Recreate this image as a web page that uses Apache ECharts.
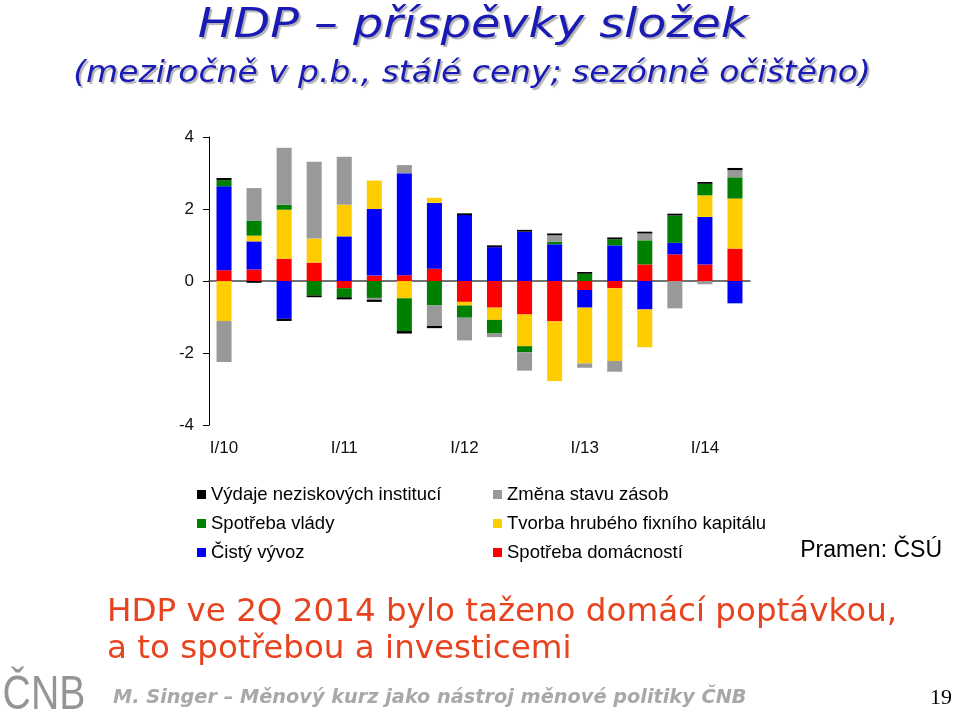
<!DOCTYPE html>
<html>
<head>
<meta charset="utf-8">
<script src="https://cdn.jsdelivr.net/npm/echarts@6/dist/echarts.min.js"></script>
<style>html,body{margin:0;padding:0;background:#fff}#c{width:960px;height:713px}</style>
</head>
<body>
<div id="c"></div>
<script>
const categories = ['I/10','II/10','III/10','IV/10','I/11','II/11','III/11','IV/11','I/12','II/12','III/12','IV/12','I/13','II/13','III/13','IV/13','I/14','II/14'];
const yTicks = [-4, -2, 0, 2, 4];
const household = [0.30, 0.32, 0.62, 0.51, -0.20, 0.15, 0.16, 0.34, -0.58, -0.74, -0.93, -1.12, -0.25, -0.20, 0.46, 0.74, 0.46, 0.90];
const netExport = [2.33, 0.78, -1.05, 0, 1.24, 1.85, 2.83, 1.83, 1.83, 0.94, 1.37, 1.02, -0.49, 0.99, -0.79, 0.32, 1.32, -0.62];
const gfcf = [-1.11, 0.16, 1.36, 0.67, 0.88, 0.79, -0.48, 0.14, -0.10, -0.34, -0.88, -1.66, -1.55, -2.02, -1.05, 0, 0.60, 1.39];
const government = [0.17, 0.42, 0.14, -0.40, -0.25, -0.47, -0.91, -0.68, -0.34, -0.38, -0.17, 0.07, 0.20, 0.17, 0.67, 0.76, 0.32, 0.59];
const inventories = [-1.14, 0.90, 1.58, 2.13, 1.33, -0.05, 0.23, -0.57, -0.63, -0.10, -0.51, 0.18, -0.12, -0.30, 0.19, -0.76, -0.09, 0.20];
const npish = [0.06, -0.05, -0.06, -0.05, -0.06, -0.06, -0.07, -0.06, 0.05, 0.05, 0.05, 0.05, 0.05, 0.05, 0.05, 0.05, 0.05, 0.06];

const names = {
  npish: 'Výdaje neziskových institucí',
  gov: 'Spotřeba vlády',
  nx: 'Čistý vývoz',
  inv: 'Změna stavu zásob',
  gfcf: 'Tvorba hrubého fixního kapitálu',
  hh: 'Spotřeba domácností'
};
const colors = { npish:'#000000', gov:'#008000', nx:'#0000FF', inv:'#999999', gfcf:'#FFCC00', hh:'#FF0000' };

function bar(key, data) {
  return { name: names[key], type: 'bar', stack: 'total', data: data,
    itemStyle: { color: colors[key] }, barCategoryGap: '50%', xAxisIndex: 0, yAxisIndex: 0 };
}

const chart = echarts.init(document.getElementById('c'));
const legendText = { fontFamily: 'Liberation Sans, Arial, sans-serif', fontSize: 18.5, color: '#000', lineHeight: 18 };
const titleFont = 'DejaVu Sans, Verdana, sans-serif';
chart.setOption({
  animation: false,
  backgroundColor: '#fff',
  grid: { left: 209, right: 210, top: 137, bottom: 288 },
  xAxis: [
    { type: 'category', data: categories, position: 'bottom',
      axisLine: { show: false, onZero: false }, axisTick: { show: false },
      axisLabel: { interval: function (i) { return i % 4 === 0; }, margin: 15,
        fontFamily: 'Liberation Sans, Arial, sans-serif', fontSize: 17, color: '#111' } },
    { type: 'category', data: categories,
      axisLine: { show: true, onZero: true, lineStyle: { color: '#444', width: 1.5 } },
      axisTick: { show: false }, axisLabel: { show: false } }
  ],
  yAxis: { type: 'value', min: -4, max: 4, interval: 2,
    axisLine: { show: true, lineStyle: { color: '#000', width: 1 } },
    axisTick: { show: true, inside: false, length: 6, lineStyle: { color: '#000' } },
    splitLine: { show: false },
    axisLabel: { margin: 15, fontFamily: 'Liberation Sans, Arial, sans-serif', fontSize: 17, color: '#111',
      formatter: function (v) { return yTicks.indexOf(v) >= 0 ? String(v) : ''; } } },
  legend: [
    { orient: 'vertical', left: 192, top: 480, itemWidth: 9, itemHeight: 9, itemGap: 10, icon: 'rect',
      textStyle: legendText, data: [names.npish, names.gov, names.nx] },
    { orient: 'vertical', left: 488, top: 480, itemWidth: 9, itemHeight: 9, itemGap: 10, icon: 'rect',
      textStyle: legendText, data: [names.inv, names.gfcf, names.hh] }
  ],
  series: [
    bar('hh', household),
    bar('nx', netExport),
    bar('gfcf', gfcf),
    bar('gov', government),
    bar('inv', inventories),
    bar('npish', npish)
  ],
  graphic: [
    { type: 'text', x: 473, y: 27, scaleX: 1.19, style: { text: 'HDP – příspěvky složek', textAlign: 'center', textVerticalAlign: 'middle',
      fontFamily: titleFont, fontStyle: 'italic', fontSize: 40, fill: '#1a1ab4',
      textShadowColor: 'rgba(0,0,0,0.3)', textShadowOffsetX: 2, textShadowOffsetY: 2, textShadowBlur: 1 } },
    { type: 'text', x: 472, y: 74, scaleX: 1.097, style: { text: '(meziročně v p.b., stálé ceny; sezónně očištěno)', textAlign: 'center', textVerticalAlign: 'middle',
      fontFamily: titleFont, fontStyle: 'italic', fontSize: 30, fill: '#1a1ab4',
      textShadowColor: 'rgba(0,0,0,0.3)', textShadowOffsetX: 2, textShadowOffsetY: 2, textShadowBlur: 1 } },
    { type: 'text', x: 942, y: 551, style: { text: 'Pramen: ČSÚ', textAlign: 'right', textVerticalAlign: 'middle',
      fontFamily: 'Liberation Sans, Arial, sans-serif', fontSize: 23, fill: '#000' } },
    { type: 'text', x: 107, y: 613, scaleX: 1.017, style: { text: 'HDP ve 2Q 2014 bylo taženo domácí poptávkou,', textAlign: 'left', textVerticalAlign: 'middle',
      fontFamily: titleFont, fontSize: 32, fill: '#E8431F' } },
    { type: 'text', x: 107, y: 650, scaleX: 1.017, style: { text: 'a to spotřebou a investicemi', textAlign: 'left', textVerticalAlign: 'middle',
      fontFamily: titleFont, fontSize: 32, fill: '#E8431F' } },
    { type: 'text', x: 113, y: 698, scaleX: 0.965, style: { text: 'M. Singer – Měnový kurz jako nástroj měnové politiky ČNB', textAlign: 'left', textVerticalAlign: 'middle',
      fontFamily: titleFont, fontStyle: 'italic', fontWeight: 'bold', fontSize: 20, fill: '#A8A8A8' } },
    { type: 'text', x: 952, y: 698, style: { text: '19', textAlign: 'right', textVerticalAlign: 'middle',
      fontFamily: 'Liberation Serif, serif', fontSize: 22, fill: '#000' } },
    { type: 'text', x: 44, y: 695, scaleX: 0.8, style: { text: 'ČNB', textAlign: 'center', textVerticalAlign: 'middle',
      fontFamily: 'Liberation Sans, Arial, sans-serif', fontSize: 49, fill: '#959595' } }
  ]
});
</script>
</body>
</html>
